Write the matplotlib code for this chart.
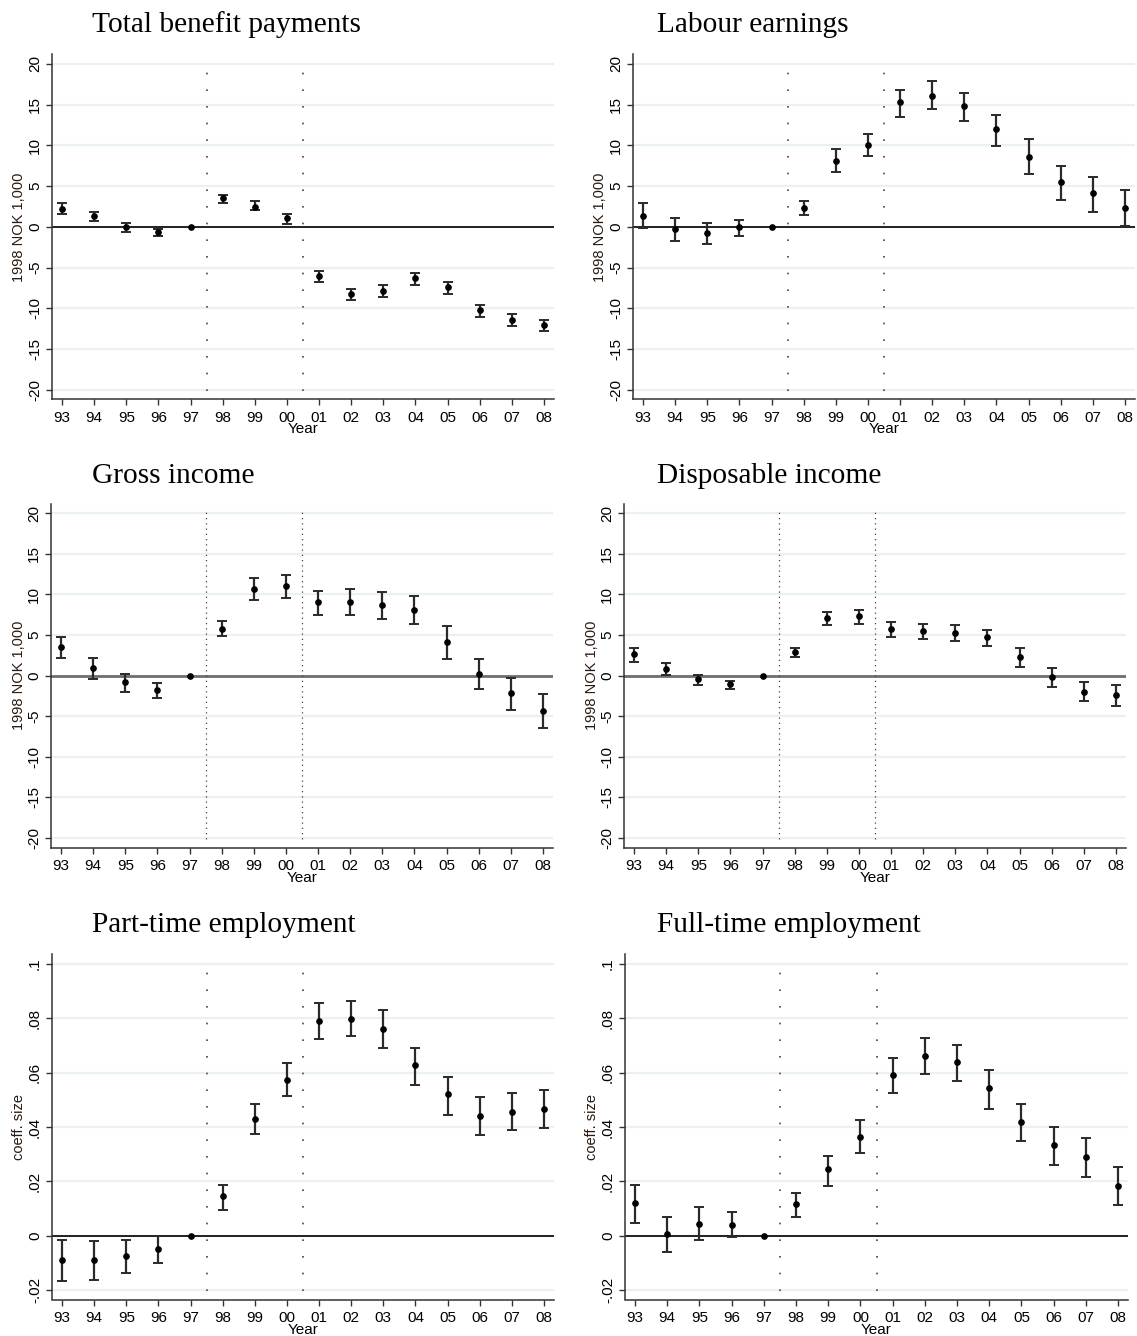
import matplotlib
matplotlib.use("Agg")
import matplotlib.pyplot as plt
import numpy as np

plt.rcParams['font.family'] = ['Liberation Sans', 'DejaVu Sans']

years = ['93', '94', '95', '96', '97', '98', '99', '00',
         '01', '02', '03', '04', '05', '06', '07', '08']

# Total benefit payments
benefit_est = [2.25, 1.35, 0.05, -0.57, 0.0, 3.5, 2.5, 1.07, -6.07, -8.28, -7.83, -6.3, -7.34, -10.16, -11.35, -12.05]
benefit_lo = [1.55, 0.7, -0.6, -1.1, None, 3.0, 2.05, 0.4, -6.72, -8.98, -8.65, -7.17, -8.2, -11.0, -12.17, -12.75]
benefit_hi = [2.9, 1.85, 0.55, -0.2, None, 3.9, 3.2, 1.65, -5.37, -7.58, -7.13, -5.65, -6.72, -9.6, -10.7, -11.43]

# Labour earnings
labour_est = [1.35, -0.2, -0.7, 0.04, 0.0, 2.38, 8.1, 10.04, 15.29, 16.1, 14.8, 12.0, 8.6, 5.49, 4.18, 2.38]
labour_lo = [-0.16, -1.76, -2.1, -1.1, None, 1.43, 6.76, 8.69, 13.52, 14.43, 12.95, 9.96, 6.48, 3.36, 1.89, 0.08]
labour_hi = [2.9, 1.1, 0.53, 0.82, None, 3.2, 9.55, 11.43, 16.76, 17.9, 16.48, 13.8, 10.74, 7.46, 6.15, 4.5]

# Gross income
gross_est = [3.53, 0.94, -0.82, -1.77, 0.0, 5.75, 10.68, 11.0, 9.0, 9.0, 8.67, 8.05, 4.1, 0.2, -2.1, -4.35]
gross_lo = [2.18, -0.41, -2.0, -2.75, None, 4.89, 9.32, 9.6, 7.47, 7.39, 6.94, 6.32, 1.97, -1.64, -4.23, -6.45]
gross_hi = [4.8, 2.1, 0.2, -0.94, None, 6.65, 11.95, 12.32, 10.39, 10.64, 10.27, 9.8, 6.08, 1.97, -0.25, -2.3]

# Disposable income
disp_est = [2.59, 0.82, -0.49, -1.07, 0.0, 2.92, 7.02, 7.27, 5.75, 5.46, 5.26, 4.68, 2.22, -0.2, -2.01, -2.38]
disp_lo = [1.72, 0.08, -1.15, -1.64, None, 2.3, 6.2, 6.4, 4.8, 4.44, 4.19, 3.61, 1.03, -1.44, -3.16, -3.78]
disp_hi = [3.37, 1.52, 0.08, -0.62, None, 3.37, 7.76, 8.05, 6.57, 6.28, 6.16, 5.59, 3.33, 0.9, -0.82, -1.23]

# Part-time employment
part_est = [-0.0089, -0.0089, -0.0075, -0.0049, 0.0, 0.0147, 0.0431, 0.0573, 0.079, 0.0799, 0.0759, 0.0627, 0.052, 0.044, 0.0457, 0.0467]
part_lo = [-0.0166, -0.0164, -0.0139, -0.0099, None, 0.0096, 0.0376, 0.0514, 0.0725, 0.0735, 0.0691, 0.0553, 0.0446, 0.0371, 0.0388, 0.0398]
part_hi = [-0.0016, -0.002, -0.0016, 0.0, None, 0.0188, 0.0486, 0.0637, 0.0855, 0.0865, 0.0829, 0.0691, 0.0585, 0.0509, 0.0526, 0.0536]

# Full-time employment
full_est = [0.0121, 0.0005, 0.0044, 0.0039, 0.0, 0.0116, 0.0245, 0.0365, 0.0591, 0.0663, 0.0639, 0.0542, 0.0417, 0.0333, 0.0288, 0.0182]
full_lo = [0.0047, -0.006, -0.0015, -0.0006, None, 0.0069, 0.0184, 0.0304, 0.0526, 0.0594, 0.057, 0.0468, 0.0349, 0.026, 0.0216, 0.0113]
full_hi = [0.0185, 0.0069, 0.0105, 0.0086, None, 0.0156, 0.0294, 0.0424, 0.0655, 0.0727, 0.0703, 0.061, 0.0486, 0.0401, 0.0358, 0.0251]

titles = ['Total benefit payments', 'Labour earnings', 'Gross income',
          'Disposable income', 'Part-time employment', 'Full-time employment']

nok_ticks = [20, 15, 10, 5, 0, -5, -10, -15, -20]
nok_labels = ['20', '15', '10', '5', '0', '-5', '-10', '-15', '-20']
coef_ticks = [0.1, 0.08, 0.06, 0.04, 0.02, 0.0, -0.02]
coef_labels = ['.1', '.08', '.06', '.04', '.02', '0', '-.02']

W, H = 1137, 1336
fig = plt.figure(figsize=(W / 100, H / 100), dpi=100)
fig.patch.set_facecolor('white')

# layout in pixels: (x of first tick, x of last tick, y of top tick, y of bottom tick, ylabel x, title x, title y)
layouts = [
    (62, 544, 64, 390, 19, 92, 25),
    (643, 1125, 64, 390, 600, 657, 25),
    (61, 543, 513, 838, 19, 92, 476),
    (634, 1116, 513, 838, 592, 657, 476),
    (62, 544, 964, 1290, 19, 92, 925),
    (635, 1118, 964, 1290, 592, 657, 925),
]

panels = [
    (benefit_est, benefit_lo, benefit_hi, nok_ticks, nok_labels, '1998 NOK 1,000', 1),
    (labour_est, labour_lo, labour_hi, nok_ticks, nok_labels, '1998 NOK 1,000', 1),
    (gross_est, gross_lo, gross_hi, nok_ticks, nok_labels, '1998 NOK 1,000', 2),
    (disp_est, disp_lo, disp_hi, nok_ticks, nok_labels, '1998 NOK 1,000', 2),
    (part_est, part_lo, part_hi, coef_ticks, coef_labels, 'coeff. size', 1),
    (full_est, full_lo, full_hi, coef_ticks, coef_labels, 'coeff. size', 1),
]

xpad = 0.32
for (est, lo, hi, yt, ytl, ylab, style), (x0, x1, yt0, yt1, ylx, tx, ty), title in zip(panels, layouts, titles):
    n = len(years)
    ppu_x = (x1 - x0) / (n - 1)
    left = x0 - xpad * ppu_x
    right = x1 + xpad * ppu_x
    ytop, ybot = max(yt), min(yt)
    ppu_y = (yt1 - yt0) / (ytop - ybot)
    ypad = 9.5 / ppu_y
    top = yt0 - ypad * ppu_y
    bot = yt1 + ypad * ppu_y
    ax = fig.add_axes([left / W, 1 - bot / H, (right - left) / W, (bot - top) / H])
    ax.set_xlim(-xpad, n - 1 + xpad)
    ax.set_ylim(ybot - ypad, ytop + ypad)

    xs = np.arange(n)
    # gridlines
    for v in yt:
        ax.axhline(v, color='#eaf1f2', lw=1.6, zorder=0)
    # zero line
    if style == 2:
        ax.axhline(0, color='#6e6e6e', lw=2.0, zorder=1)
        dash = (0, (1, 3.2))
        dlw = 0.9
    else:
        ax.axhline(0, color='#111111', lw=1.3, zorder=1)
        dash = (0, (1, 9))
        dlw = 1.2
    # vertical dotted lines
    for xv in (4.5, 7.5):
        ax.axvline(xv, ymin=0.025, ymax=0.975, color='#444444', lw=dlw, ls=dash, zorder=1)

    idx = [i for i in range(n) if lo[i] is not None]
    e = np.array([est[i] for i in idx])
    l = np.array([lo[i] for i in idx])
    h = np.array([hi[i] for i in idx])
    ax.errorbar(xs[idx], e, yerr=[e - l, h - e], fmt='none', ecolor='#2a2a2a',
                elinewidth=1.6, capsize=3.3, capthick=1.4, zorder=3)
    ax.plot(xs, est, 'o', color='black', ms=3.8, zorder=4, ls='none')

    ax.set_xticks(xs)
    ax.set_xticklabels(years, fontsize=11)
    ax.set_yticks(yt)
    ax.set_yticklabels(ytl, fontsize=11, rotation=90, va='center')
    ax.tick_params(axis='both', length=4.5, width=1, color='#333333')
    ax.tick_params(axis='x', pad=4)
    ax.tick_params(axis='y', pad=2.5)
    for s in ('top', 'right'):
        ax.spines[s].set_visible(False)
    for s in ('left', 'bottom'):
        ax.spines[s].set_color('#333333')
        ax.spines[s].set_linewidth(1.1)

    ax.set_xlabel('Year', fontsize=11)
    ax.xaxis.set_label_coords(0.5, -30 / (bot - top))
    ax.xaxis.label.set_va('center')
    ax.set_ylabel(ylab, fontsize=10.5, color='#2a1a10')
    ax.yaxis.set_label_coords((ylx - left) / (right - left), 0.5)
    ax.yaxis.label.set_va('center')

    fig.text(tx / W, 1 - ty / H, title, fontsize=21.2, family=['Liberation Serif', 'DejaVu Serif'],
             ha='left', va='center')

fig.savefig('out.png', dpi=100, facecolor='white')
